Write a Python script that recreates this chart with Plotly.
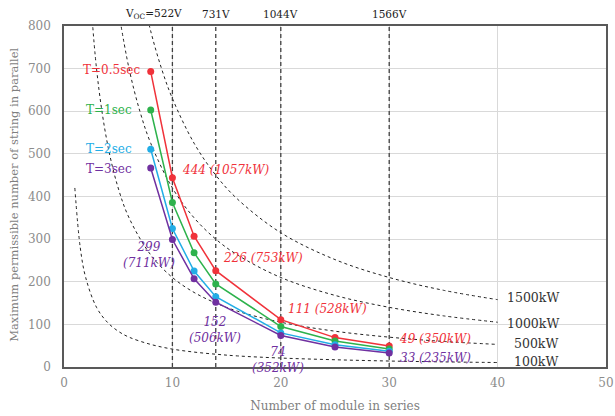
import plotly.graph_objects as go

# ---- data ----
n_series = [8, 10, 12, 14, 20, 25, 30]
t05 = [693, 444, 307, 226, 111, 69, 49]
t1 = [603, 386, 268, 195, 95, 61, 42]
t2 = [511, 325, 225, 165, 80, 52, 37]
t3 = [467, 299, 207, 152, 74, 47, 33]
series_names = ["T=0.5sec", "T=1sec", "T=2sec", "T=3sec"]
series_colors = ["#F0323A", "#2DB24C", "#22ADE6", "#7030A0"]

# iso-power curves
p1500_x = [7, 8, 9, 10, 12, 14, 16, 20, 25, 30, 35, 40]
p1500_y = [900, 788, 700, 630, 525, 450, 394, 315, 252, 210, 180, 158]
p1000_x = [5, 6, 7, 8, 10, 12, 14, 16, 20, 25, 30, 35, 40]
p1000_y = [840, 700, 600, 525, 420, 350, 300, 263, 210, 168, 140, 120, 105]
p500_x = [2, 3, 4, 5, 6, 8, 10, 12, 14, 16, 20, 25, 30, 35, 40]
p500_y = [1050, 700, 525, 420, 350, 263, 210, 175, 150, 131, 105, 84, 70, 60, 53]
p100_x = [1, 1.5, 2, 3, 4, 5, 6, 8, 10, 12, 14, 16, 20, 25, 30, 35, 40]
p100_y = [420, 280, 210, 140, 105, 84, 70, 53, 42, 35, 30, 26, 21, 17, 14, 12, 10.5]
power_labels = ["1500kW", "1000kW", "500kW", "100kW"]
power_label_pos = [(40.7, 162), (40.7, 103), (41.3, 56), (41.3, 14)]

voc_x = [10, 14, 20, 30]
voc_labels = ["V<sub>OC</sub>=522V", "731V", "1044V", "1566V"]

point_notes = [
    ("444 (1057kW)", 10.7, 462, "left", 0),
    ("226 (753kW)", 14.5, 256, "left", 0),
    ("111 (528kW)", 20.5, 136, "left", 0),
    ("49 (350kW)", 30.7, 66, "left", 0),
    ("33 (235kW)", 30.8, 21, "left", 3),
    ("299<br>(711kW)", 7.84, 263, "center", 3),
    ("152<br>(506kW)", 13.9, 87, "center", 3),
    ("74<br>(352kW)", 19.7, 16, "center", 3),
]
note_colors = {0: "#F0323A", 3: "#7030A0"}

series_label_pos = [(7.15, 697), (6.45, 603), (6.45, 512), (6.45, 465)]

FONT = "DejaVu Serif"

fig = go.Figure()

for xs, ys in [(p1500_x, p1500_y), (p1000_x, p1000_y), (p500_x, p500_y), (p100_x, p100_y)]:
    fig.add_trace(go.Scatter(x=xs, y=ys, mode="lines", line=dict(color="#222222", width=1, dash="3px,3px", shape="spline"),
                             showlegend=False, hoverinfo="skip"))

for v in voc_x:
    fig.add_trace(go.Scatter(x=[v, v], y=[0, 800], mode="lines",
                             line=dict(color="#404040", width=1.3, dash="4px,3px"),
                             showlegend=False, hoverinfo="skip"))

for ys, name, col in zip([t05, t1, t2, t3], series_names, series_colors):
    fig.add_trace(go.Scatter(x=n_series, y=ys, mode="lines+markers", name=name,
                             line=dict(color=col, width=1.5), marker=dict(color=col, size=7),
                             showlegend=False))

ann = []
for name, col, (x, y) in zip(series_names, series_colors, series_label_pos):
    ann.append(dict(x=x, y=y, text=name, xanchor="right", yanchor="middle", showarrow=False,
                    font=dict(family=FONT, size=12, color=col)))
for txt, x, y, anc, ci in point_notes:
    ann.append(dict(x=x, y=y, text="<i>" + txt + "</i>", xanchor=anc, yanchor="middle", showarrow=False,
                    font=dict(family=FONT, size=12, color=note_colors[ci])))
for txt, (x, y) in zip(power_labels, power_label_pos):
    ann.append(dict(x=x, y=y, text=txt, xanchor="left", yanchor="middle", showarrow=False,
                    font=dict(family=FONT, size=12.5, color="#333333")))
for v, txt in zip(voc_x, voc_labels):
    if v == voc_x[0]:
        ann.append(dict(x=11.1, y=1.035, yref="paper", text=txt, xanchor="right", yanchor="middle",
                        showarrow=False, font=dict(family=FONT, size=10.5, color="#222222")))
    else:
        ann.append(dict(x=v, y=1.035, yref="paper", text=txt, xanchor="center", yanchor="middle",
                        showarrow=False, font=dict(family=FONT, size=10.5, color="#222222")))
# y-axis title as annotation for exact placement
ann.append(dict(x=-0.0923, y=0.505, xref="paper", yref="paper", textangle=-90,
                text="Maximum permissible number of string in parallel", showarrow=False,
                xanchor="center", yanchor="middle",
                font=dict(family=FONT, size=11.5, color="#7F7F7F")))

fig.update_layout(
    width=615, height=416,
    margin=dict(l=64, r=9, t=26, b=49),
    paper_bgcolor="white", plot_bgcolor="white",
    annotations=ann,
    font=dict(family=FONT),
)
fig.update_xaxes(range=[0, 50], dtick=10, showgrid=True, gridcolor="#D9D9D9", gridwidth=1,
                 showline=True, mirror=True, linecolor="#595959", linewidth=1.5, zeroline=False,
                 automargin=False, ticklabelstandoff=4,
                 tickfont=dict(family=FONT, size=12, color="#8C8C8C"),
                 title=dict(text="Number of module in series", font=dict(family=FONT, size=12, color="#7F7F7F"), standoff=12))
fig.update_yaxes(range=[0, 800], dtick=100, showgrid=True, gridcolor="#D9D9D9", gridwidth=1,
                 showline=True, mirror=True, linecolor="#595959", linewidth=1.5, zeroline=False,
                 automargin=False, ticklabelstandoff=9,
                 tickfont=dict(family=FONT, size=12, color="#8C8C8C"))

fig.write_html("out.html")
